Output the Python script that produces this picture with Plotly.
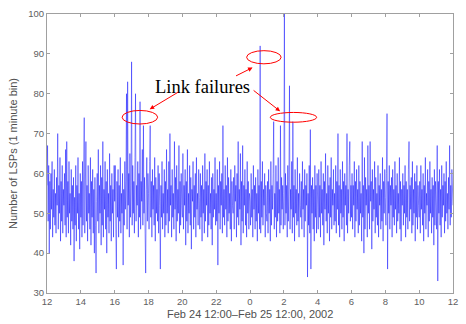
import plotly.graph_objects as go

# LSP counts, 2-minute resolution, one list per hour (starting Feb 24 12:00)
h00 = [57,67,48,62,40,58,46,60,51,63,44,56,49,61,47,55,45,59,52,70,46,57,50,64,43,58,48,62,45,56]
h01 = [52,60,47,66,44,68,49,58,45,63,50,55,42,61,48,57,46,59,38,54,47,62,43,57,50,64,46,55,41,60]
h02 = [49,58,44,63,47,56,74,45,60,68,48,57,43,62,50,55,46,64,42,58,49,61,45,56,40,59,47,35,53,60]
h03 = [48,66,45,57,50,62,42,59,47,68,44,56,51,63,46,58,40,61,49,55,45,65,48,57,43,60,50,56,44,62]
h04 = [53,62,46,36,58,49,61,44,57,48,64,45,55,50,60,37,56,47,63,51,58,80,46,83,52,60,44,65,49,57]
h05 = [88,47,62,50,58,45,64,80,48,57,52,63,44,60,49,78,46,58,53,66,47,72,50,59,45,35,56,64,48,60]
h06 = [55,46,63,72,49,58,44,61,51,57,47,64,43,59,50,56,48,62,45,60,52,36,57,49,63,46,55,50,61,44]
h07 = [58,47,66,50,56,45,63,48,70,52,57,44,61,49,55,46,68,51,59,43,62,48,56,50,67,45,58,47,60,52]
h08 = [49,65,46,57,52,61,42,58,48,66,45,55,50,62,47,59,41,56,53,63,46,57,49,60,44,64,51,55,47,61]
h09 = [54,46,60,49,57,43,62,50,56,45,65,48,58,52,61,44,57,47,63,50,55,46,59,42,60,49,56,51,64,47]
h10 = [55,48,61,37,57,50,63,46,58,52,60,45,72,49,56,47,62,51,57,44,64,48,59,50,55,46,61,43,58,52]
h11 = [50,59,46,62,53,57,44,60,49,68,47,56,51,65,42,58,48,67,45,57,52,61,47,56,44,63,50,58,46,55]
h12 = [53,47,60,49,56,44,62,51,57,46,59,48,55,43,61,50,57,46,92,45,58,49,63,47,56,52,60,44,57,50]
h13 = [48,58,45,61,50,56,43,63,47,57,51,60,73,46,55,49,62,44,58,48,64,50,56,45,72,47,59,51,57,46]
h14 = [55,100,47,60,50,57,44,62,48,58,82,46,56,51,63,45,73,49,57,43,61,50,56,47,64,48,55,44,60,52]
h15 = [49,58,46,63,51,56,44,61,48,57,52,60,34,55,47,62,45,71,36,57,50,59,46,56,43,62,49,57,45,60]
h16 = [53,46,61,49,57,44,63,50,56,47,60,42,58,51,65,48,55,45,62,50,57,43,59,49,64,46,56,52,61,47]
h17 = [55,48,62,45,58,51,70,47,57,44,61,50,56,46,63,49,58,43,60,52,57,47,70,45,56,50,62,68,48,57]
h18 = [49,60,46,57,52,63,44,58,48,61,51,56,45,62,47,58,50,55,43,68,49,57,40,64,46,59,52,56,44,67]
h19 = [50,57,46,68,53,58,41,61,48,56,51,63,45,59,49,55,47,62,44,57,52,60,46,56,48,64,43,58,50,61]
h20 = [54,47,60,75,36,58,50,62,46,57,52,59,44,61,49,56,47,63,51,57,45,60,48,55,50,64,46,58,43,56]
h21 = [52,60,47,57,50,62,44,58,49,56,46,61,68,48,57,51,59,45,63,47,56,50,60,43,58,49,62,46,57,52]
h22 = [49,58,45,62,51,56,47,60,43,57,50,64,46,55,52,61,44,58,48,63,50,56,45,59,49,57,42,61,47,58]
h23 = [53,46,67,33,58,50,61,47,56,44,62,49,57,52,60,45,58,48,63,50,55,46,59,51,67,47,57,49,61,54]
last = [52]

hours = [h00,h01,h02,h03,h04,h05,h06,h07,h08,h09,h10,h11,
         h12,h13,h14,h15,h16,h17,h18,h19,h20,h21,h22,h23]
values = [v for h in hours for v in h] + last
step_minutes = 2
times = [i * step_minutes / 60 for i in range(len(values))]

tick_pos = list(range(0, 25, 2))
tick_labels = ["12", "14", "16", "18", "20", "22", "0", "2", "4", "6", "8", "10", "12"]

fig = go.Figure()
fig.add_trace(go.Scatter(x=times, y=values, mode="lines",
                         line=dict(color="#0000ff", width=0.45),
                         hoverinfo="skip", showlegend=False))

axis_common = dict(showline=True, linecolor="#a0a0a0", linewidth=1, mirror="allticks",
                   ticks="inside", ticklen=3, tickcolor="#a0a0a0", showgrid=False,
                   zeroline=False, tickfont=dict(family="Arial, Liberation Sans", size=9.5, color="#606060"))

fig.update_xaxes(range=[0, 24], tickvals=tick_pos, ticktext=tick_labels, **axis_common)
fig.update_yaxes(range=[30, 100], dtick=10, **axis_common)

title_font = dict(family="Arial, Liberation Sans", size=11, color="#505050")
fig.add_annotation(text="Feb 24 12:00\u2013Feb 25 12:00, 2002", xref="paper", yref="paper",
                   x=0.5, y=-0.077, yanchor="middle", showarrow=False, font=title_font)
fig.add_annotation(text="Number of LSPs (1 minute bin)", xref="paper", yref="paper",
                   x=-0.085, y=0.5, xanchor="center", yanchor="middle", textangle=-90,
                   showarrow=False, font=title_font)

# red ellipses marking link failures
ellipses = [(4.44, 6.54, 72.4, 75.8), (11.8, 13.84, 87.5, 90.8), (13.2, 15.94, 72.85, 75.3)]
for x0, x1, y0, y1 in ellipses:
    fig.add_shape(type="circle", xref="x", yref="y", x0=x0, x1=x1, y0=y0, y1=y1,
                  line=dict(color="#ff0000", width=1))

fig.add_annotation(x=9.2, y=81.8, xref="x", yref="y", text="Link failures", showarrow=False,
                   font=dict(family="Liberation Serif, Times New Roman", size=18.5, color="black"))

arrows = [(6.07, 76.1, 30, -18), (12.15, 86.55, -18, 9), (13.78, 75.6, -28, -22)]
for x, y, ax, ay in arrows:
    fig.add_annotation(x=x, y=y, xref="x", yref="y", ax=ax, ay=ay, text="",
                       showarrow=True, arrowhead=2, arrowsize=0.9, arrowwidth=1,
                       arrowcolor="#ff0000")

fig.update_layout(width=466, height=324, margin=dict(l=47, r=8, t=12, b=31),
                  plot_bgcolor="white", paper_bgcolor="white")

fig.write_html("out.html", config={"displayModeBar": False},
               post_script="document.body.style.margin='0';")
